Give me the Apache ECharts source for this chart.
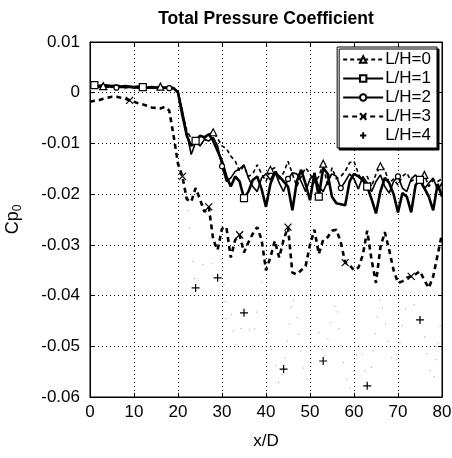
<!DOCTYPE html>
<html>
<head>
<meta charset="utf-8">
<script src="https://cdn.jsdelivr.net/npm/echarts@6/dist/echarts.min.js"></script>
<style>
  html, body { margin: 0; padding: 0; background: #fff; }
  #chart { width: 452px; height: 458px; }
</style>
</head>
<body>
<div id="chart"></div>
<script>
// x/D positions
const xD = [0, 1, 2, 3, 4, 5, 6, 7, 8, 9, 10, 11, 12, 13, 14, 15, 16, 17, 18, 19,
  20, 21, 22, 23, 24, 25, 26, 27, 28, 29, 30, 31, 32, 33, 34, 35, 36, 37, 38, 39,
  40, 41, 42, 43, 44, 45, 46, 47, 48, 49, 50, 51, 52, 53, 54, 55, 56, 57, 58, 59,
  60, 61, 62, 63, 64, 65, 66, 67, 68, 69, 70, 71, 72, 73, 74, 75, 76, 77, 78, 79, 80]

const lh0 = [0.0012, 0.0013, 0.0012, 0.0013, 0.0012, 0.0011, 0.0012, 0.0011, 0.0010, 0.0011,
  0.0010, 0.0010, 0.0009, 0.0010, 0.0009, 0.0010, 0.0012, 0.0009, 0.0010, 0.0008,
  0.0002, -0.0040, -0.0075, -0.0090, -0.0095, -0.0085, -0.0090, -0.0082, -0.0078, -0.0090,
  -0.0105, -0.0110, -0.0125, -0.0135, -0.0155, -0.0145, -0.0165, -0.0160, -0.0142, -0.0160,
  -0.0175, -0.0152, -0.0148, -0.0170, -0.0158, -0.0135, -0.0160, -0.0185, -0.0165, -0.0148,
  -0.0160, -0.0178, -0.0165, -0.0140, -0.0185, -0.0148, -0.0170, -0.0165, -0.0155, -0.0138,
  -0.0135, -0.0160, -0.0175, -0.0165, -0.0185, -0.0160, -0.0145, -0.0152, -0.0178, -0.0170,
  -0.0182, -0.0165, -0.0158, -0.0175, -0.0168, -0.0170, -0.0162, -0.0185, -0.0172, -0.0175, -0.0170]

const lh1 = [0.0014, 0.0015, 0.0013, 0.0015, 0.0014, 0.0013, 0.0014, 0.0012, 0.0013, 0.0012,
  0.0011, 0.0012, 0.0011, 0.0010, 0.0011, 0.0010, 0.0011, 0.0010, 0.0010, 0.0009,
  0.0000, -0.0045, -0.0085, -0.0105, -0.0095, -0.0085, -0.0088, -0.0082, -0.0095, -0.0115,
  -0.0135, -0.0165, -0.0185, -0.0165, -0.0175, -0.0208, -0.0195, -0.0172, -0.0165, -0.0190,
  -0.0225, -0.0180, -0.0158, -0.0165, -0.0175, -0.0185, -0.0232, -0.0175, -0.0152, -0.0180,
  -0.0212, -0.0158, -0.0205, -0.0148, -0.0160, -0.0205, -0.0218, -0.0220, -0.0222, -0.0175,
  -0.0160, -0.0165, -0.0172, -0.0185, -0.0210, -0.0238, -0.0195, -0.0168, -0.0178, -0.0200,
  -0.0236, -0.0198, -0.0205, -0.0236, -0.0182, -0.0172, -0.0188, -0.0205, -0.0232, -0.0180, -0.0205]

const lh2 = [0.0011, 0.0012, 0.0011, 0.0012, 0.0011, 0.0012, 0.0010, 0.0011, 0.0010, 0.0011,
  0.0010, 0.0009, 0.0010, 0.0009, 0.0010, 0.0009, 0.0010, 0.0009, 0.0009, 0.0008,
  0.0003, -0.0035, -0.0080, -0.0122, -0.0098, -0.0105, -0.0092, -0.0095, -0.0088, -0.0105,
  -0.0145, -0.0175, -0.0168, -0.0155, -0.0150, -0.0142, -0.0168, -0.0185, -0.0195, -0.0168,
  -0.0160, -0.0172, -0.0155, -0.0178, -0.0195, -0.0170, -0.0158, -0.0160, -0.0175, -0.0195,
  -0.0170, -0.0162, -0.0185, -0.0195, -0.0175, -0.0160, -0.0165, -0.0188, -0.0175, -0.0160,
  -0.0170, -0.0190, -0.0165, -0.0178, -0.0195, -0.0175, -0.0162, -0.0185, -0.0198, -0.0175,
  -0.0165, -0.0188, -0.0195, -0.0170, -0.0162, -0.0175, -0.0190, -0.0178, -0.0168, -0.0192, -0.0178]

const lh3 = [-0.0018, -0.0016, -0.0015, -0.0012, -0.0010, -0.0008, -0.0008, -0.0010, -0.0012, -0.0015,
  -0.0018, -0.0021, -0.0023, -0.0026, -0.0029, -0.0030, -0.0031, -0.0028, -0.0035, -0.0085,
  -0.0140, -0.0165, -0.0210, -0.0215, -0.0188, -0.0210, -0.0235, -0.0225, -0.0290, -0.0310,
  -0.0268, -0.0265, -0.0325, -0.0290, -0.0280, -0.0315, -0.0295, -0.0278, -0.0265, -0.0290,
  -0.0350, -0.0325, -0.0292, -0.0325, -0.0290, -0.0265, -0.0355, -0.0358, -0.0350, -0.0342,
  -0.0300, -0.0270, -0.0318, -0.0290, -0.0285, -0.0272, -0.0270, -0.0295, -0.0335, -0.0340,
  -0.0350, -0.0345, -0.0320, -0.0272, -0.0330, -0.0375, -0.0305, -0.0275, -0.0310, -0.0350,
  -0.0375, -0.0372, -0.0365, -0.0362, -0.0358, -0.0352, -0.0370, -0.0385, -0.0362, -0.0320, -0.0278]

const lh4 = [0.0006, 0.0007, 0.0006, 0.0007, 0.0006, 0.0005, 0.0006, 0.0005, 0.0006, 0.0005,
  0.0005, 0.0004, 0.0005, 0.0004, 0.0005, 0.0004, 0.0004, 0.0003, 0.0003, 0.0002,
  -0.0020, -0.0120, -0.0200, -0.0300, -0.0385, -0.0360, -0.0330, -0.0325, -0.0340, -0.0365,
  -0.0320, -0.0450, -0.0430, -0.0500, -0.0480, -0.0434, -0.0460, -0.0500, -0.0420, -0.0370,
  -0.0440, -0.0500, -0.0530, -0.0580, -0.0545, -0.0480, -0.0400, -0.0440, -0.0520, -0.0570,
  -0.0550, -0.0500, -0.0470, -0.0529, -0.0490, -0.0440, -0.0410, -0.0500, -0.0550, -0.0590,
  -0.0540, -0.0500, -0.0520, -0.0578, -0.0540, -0.0460, -0.0400, -0.0450, -0.0500, -0.0540,
  -0.0520, -0.0460, -0.0410, -0.0390, -0.0430, -0.0448, -0.0480, -0.0540, -0.0570, -0.0500, -0.0430]

// indices of the points that carry a marker
const marks0 = [3, 16, 28, 41, 53, 66, 76]
const marks1 = [1, 12, 24, 35, 52, 63, 75]
const marks2 = [6, 18, 30, 45, 57, 70]
const marks3 = [9, 21, 27, 34, 45, 58, 73]
const marks4 = [24, 29, 35, 44, 53, 63, 75]

const yTicks = [0.01, 0, -0.01, -0.02, -0.03, -0.04, -0.05, -0.06]

const FONT = 'Liberation Sans, Arial, sans-serif'
const CROSS = 'path://M0,0L10,10M10,0L0,10'
const PLUS = 'path://M5,0L5,10M0,5L10,5'

const toPoints = (ys, marks) => ys.map((y, i) => {
  const item = {value: [xD[i], y]}
  if (!marks.includes(i)) item.symbol = 'none'
  return item
})

const makeSeries = (name, ys, marks, symbol, size, line) => ({
  name,
  type: 'line',
  data: toPoints(ys, marks),
  symbol,
  symbolSize: size,
  symbolKeepAspect: true,
  showSymbol: true,
  showAllSymbol: true,
  lineStyle: Object.assign({color: '#000'}, line),
  itemStyle: {color: '#fff', borderColor: '#000', borderWidth: 1.2},
  emphasis: {disabled: true},
  animation: false,
  z: 3
})

const chart = echarts.init(document.getElementById('chart'))

const option = {
  backgroundColor: '#fff',
  textStyle: {fontFamily: FONT},
  title: {
    text: 'Total Pressure Coefficient',
    left: 261,
    top: 5,
    textAlign: 'center',
    textStyle: {fontSize: 17.5, fontWeight: 'bold', color: '#000', fontFamily: FONT}
  },
  grid: {
    left: 90,
    right: 10,
    top: 42,
    bottom: 61,
    outerBoundsMode: 'none',
    show: true,
    borderColor: '#000',
    borderWidth: 1,
    backgroundColor: '#fff'
  },
  legend: {
    orient: 'vertical',
    right: 15,
    top: 47,
    itemWidth: 40,
    itemHeight: 8,
    itemGap: 2,
    padding: [4, 6, 4, 5],
    backgroundColor: '#fff',
    borderColor: '#000',
    borderWidth: 1,
    shadowColor: '#000',
    shadowBlur: 0,
    shadowOffsetX: 2,
    shadowOffsetY: 2,
    textStyle: {fontSize: 17, color: '#000', fontFamily: FONT, padding: [0, 0, 0, -3]},
    data: [
      {name: 'L/H=0'},
      {name: 'L/H=1'},
      {name: 'L/H=2'},
      {name: 'L/H=3'},
      {name: 'L/H=4', lineStyle: {opacity: 0}}
    ]
  },
  xAxis: [{
    type: 'value',
    min: 0,
    max: 80,
    interval: 10,
    name: 'x/D',
    nameLocation: 'middle',
    nameGap: 36,
    nameTextStyle: {fontSize: 17, color: '#000'},
    axisLine: {show: true, onZero: false, lineStyle: {color: '#000'}},
    axisTick: {show: true, inside: true, length: 4, lineStyle: {color: '#000'}},
    axisLabel: {fontSize: 17, color: '#000', margin: 7},
    splitLine: {show: true, lineStyle: {color: '#000', type: [1, 3], width: 1}}
  }, {
    type: 'value',
    position: 'top',
    min: 0,
    max: 80,
    interval: 10,
    axisLine: {show: true, onZero: false, lineStyle: {color: '#000'}},
    axisTick: {show: true, inside: true, length: 4, lineStyle: {color: '#000'}},
    axisLabel: {show: false},
    splitLine: {show: false}
  }],
  yAxis: [{
    type: 'value',
    min: -0.06,
    max: 0.01,
    interval: 0.01,
    name: '{a|Cp}{b|0}',
    nameLocation: 'middle',
    nameGap: 66,
    nameTextStyle: {
      color: '#000',
      rich: {
        a: {fontSize: 18, color: '#000', fontFamily: FONT},
        b: {fontSize: 12, color: '#000', fontFamily: FONT, padding: [9, 0, 0, 0]}
      }
    },
    axisLine: {show: true, onZero: false, lineStyle: {color: '#000'}},
    axisTick: {show: true, inside: true, length: 4, lineStyle: {color: '#000'}},
    axisLabel: {
      fontSize: 17,
      color: '#000',
      margin: 10,
      formatter: v => {
        const t = yTicks.find(k => Math.abs(k - v) < 1e-9)
        if (t === undefined) return ''
        return t === 0 ? '0' : t.toFixed(2)
      }
    },
    splitLine: {show: true, lineStyle: {color: '#000', type: [1, 3], width: 1}}
  }, {
    type: 'value',
    position: 'right',
    min: -0.06,
    max: 0.01,
    interval: 0.01,
    axisLine: {show: true, onZero: false, lineStyle: {color: '#000'}},
    axisTick: {show: true, inside: true, length: 4, lineStyle: {color: '#000'}},
    axisLabel: {show: false},
    splitLine: {show: false}
  }],
  series: [
    makeSeries('L/H=0', lh0, marks0, 'triangle', 7, {width: 1.6, type: [4, 3]}),
    makeSeries('L/H=1', lh1, marks1, 'rect', 7, {width: 2.6}),
    makeSeries('L/H=2', lh2, marks2, 'circle', 5, {width: 1.6}),
    makeSeries('L/H=3', lh3, marks3, CROSS, 7, {width: 2.6, type: [5, 4]}),
    makeSeries('L/H=4', lh4, marks4, PLUS, 8, {width: 1, type: [1, 16], color: '#999'})
  ]
}

chart.setOption(option)
window.addEventListener('resize', () => chart.resize())
</script>
</body>
</html>
